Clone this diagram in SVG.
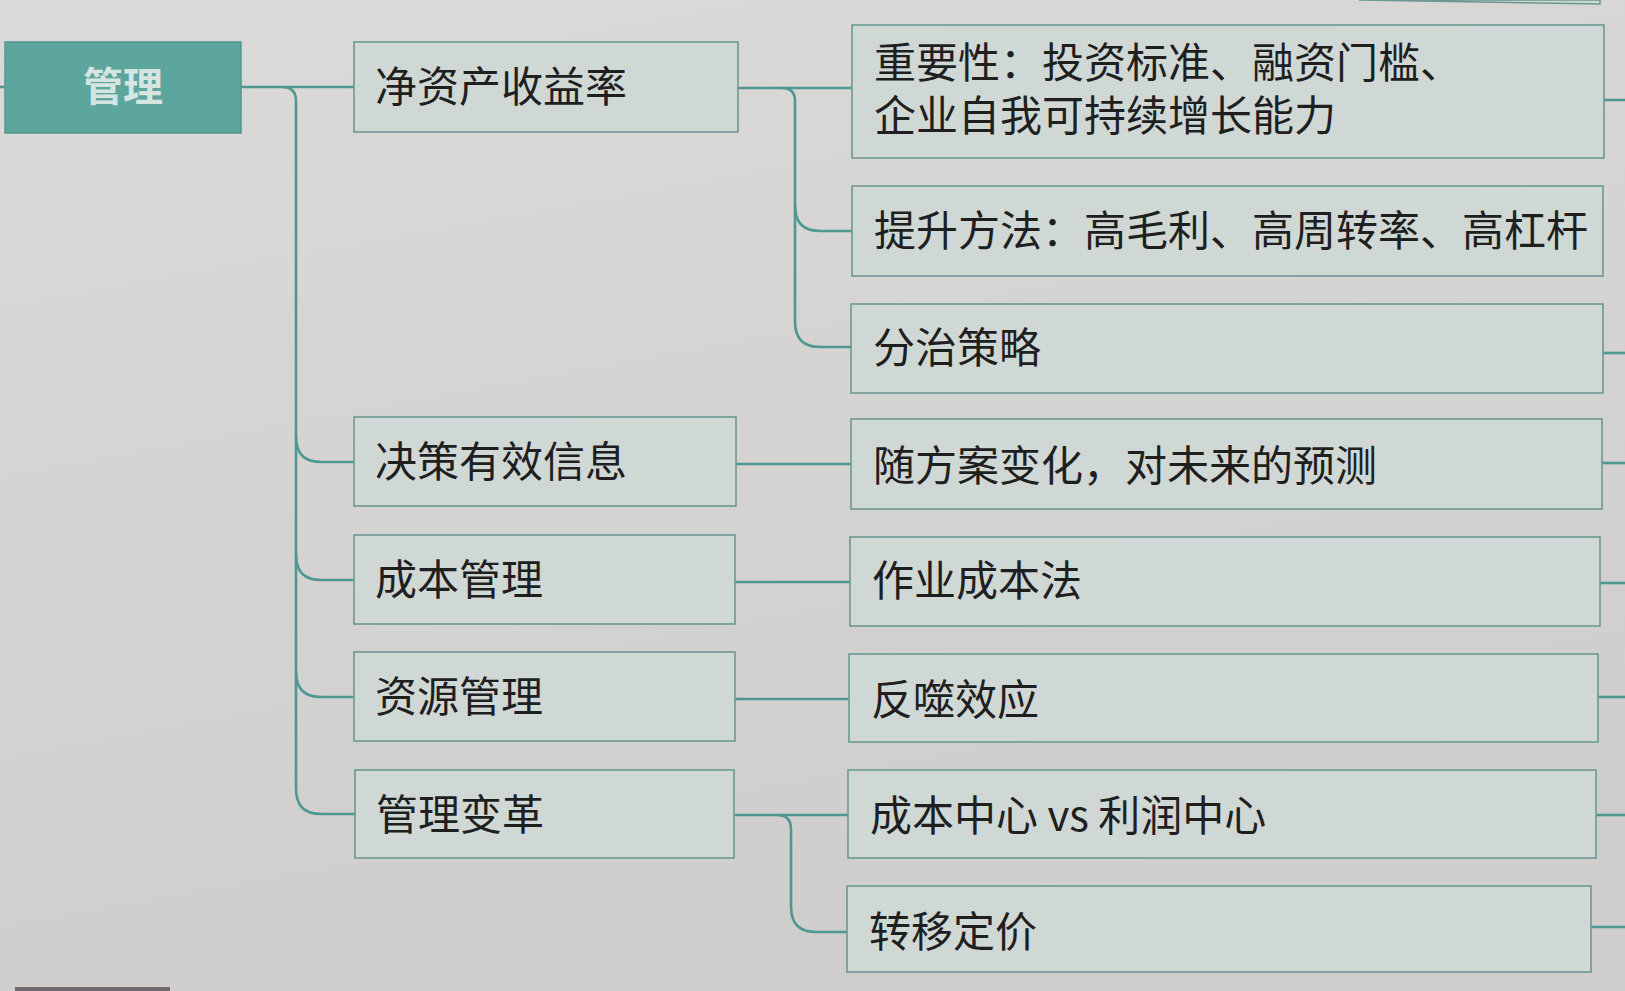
<svg xmlns="http://www.w3.org/2000/svg" width="1625" height="991" viewBox="0 0 1625 991">
<defs>
<linearGradient id="paper" x1="0" y1="0" x2="0.3" y2="1">
<stop offset="0" stop-color="#dbdad8"/>
<stop offset="1" stop-color="#cfcecc"/>
</linearGradient>
<style>
.box{fill:#d0d8d6;stroke:#6c9892;stroke-width:1.6}
.root{fill:#5ca69e;stroke:#4f9991;stroke-width:1.5}
.t{font-family:"Noto Sans CJK SC","Noto Sans",sans-serif;font-size:42px;fill:#1f1f1f}
.rt{font-family:"Noto Sans CJK SC","Noto Sans",sans-serif;font-size:40px;font-weight:bold;fill:#d6e5df}
.c{fill:none;stroke:#4e9891;stroke-width:2.6}
</style>
</defs>
<rect x="0" y="0" width="1625" height="991" fill="url(#paper)"/>
<path d="M1359 0 L1600 4 L1600 0 Z" fill="#d0d8d6" stroke="#6c9892" stroke-width="1.6"/>
<rect x="15" y="987" width="155" height="6" fill="#6f6a6f"/>

<g id="connectors">
<path class="c" d="M0 87 H5"/>
<path class="c" d="M241 87 H354"/>
<path class="c" d="M282 87 Q296 87 296 101 V788 C296 806 304 814 322 814 H355"/>
<path class="c" d="M296 436 C296 454 304 462 322 462 H354"/>
<path class="c" d="M296 554 C296 572 304 580 322 580 H354"/>
<path class="c" d="M296 671 C296 689 304 697 322 697 H354"/>
<path class="c" d="M738 88 H852"/>
<path class="c" d="M782 88 Q795 88 795 101 V321 C795 339 803 347 821 347 H851"/>
<path class="c" d="M795 205 C795 223 803 231 821 231 H852"/>
<path class="c" d="M736 464 H851"/>
<path class="c" d="M735 582 H850"/>
<path class="c" d="M735 699 H849"/>
<path class="c" d="M734 815 H848"/>
<path class="c" d="M777 815 Q791 815 791 829 V906 C791 924 799 932 817 932 H847"/>
<path class="c" d="M1604 100 H1625"/>
<path class="c" d="M1603 353 H1625"/>
<path class="c" d="M1602 463 H1625"/>
<path class="c" d="M1600 583 H1625"/>
<path class="c" d="M1598 697 H1625"/>
<path class="c" d="M1596 815 H1625"/>
<path class="c" d="M1591 927 H1625"/>
</g>

<g id="root">
<rect class="root" x="5" y="42" width="236" height="91"/>
<text class="rt" x="123" y="101" text-anchor="middle">管理</text>
</g>

<g id="n-roe">
<rect class="box" x="354" y="42" width="384" height="90"/>
<text class="t" x="375" y="102">净资产收益率</text>
</g>
<g id="n-decision">
<rect class="box" x="354" y="417" width="382" height="89"/>
<text class="t" x="375" y="477">决策有效信息</text>
</g>
<g id="n-cost">
<rect class="box" x="354" y="535" width="381" height="89"/>
<text class="t" x="375" y="595">成本管理</text>
</g>
<g id="n-resource">
<rect class="box" x="354" y="652" width="381" height="89"/>
<text class="t" x="375" y="712">资源管理</text>
</g>
<g id="n-reform">
<rect class="box" x="355" y="770" width="379" height="88"/>
<text class="t" x="376" y="830">管理变革</text>
</g>

<g id="n-importance">
<rect class="box" x="852" y="25" width="752" height="133"/>
<text class="t"><tspan x="874" y="78">重要性：投资标准、融资门槛、</tspan><tspan x="874" y="131">企业自我可持续增长能力</tspan></text>
</g>
<g id="n-improve">
<rect class="box" x="852" y="186" width="751" height="90"/>
<text class="t" x="874" y="246">提升方法：高毛利、高周转率、高杠杆</text>
</g>
<g id="n-divide">
<rect class="box" x="851" y="304" width="752" height="89"/>
<text class="t" x="873" y="363">分治策略</text>
</g>
<g id="n-forecast">
<rect class="box" x="851" y="419" width="751" height="90"/>
<text class="t" x="873" y="481">随方案变化，对未来的预测</text>
</g>
<g id="n-abc">
<rect class="box" x="850" y="537" width="750" height="89"/>
<text class="t" x="872" y="596">作业成本法</text>
</g>
<g id="n-backfire">
<rect class="box" x="849" y="654" width="749" height="88"/>
<text class="t" x="871" y="715">反噬效应</text>
</g>
<g id="n-centers">
<rect class="box" x="848" y="770" width="748" height="88"/>
<text class="t" x="870" y="831">成本中心 vs 利润中心</text>
</g>
<g id="n-transfer">
<rect class="box" x="847" y="886" width="744" height="86"/>
<text class="t" x="869" y="947">转移定价</text>
</g>
</svg>
